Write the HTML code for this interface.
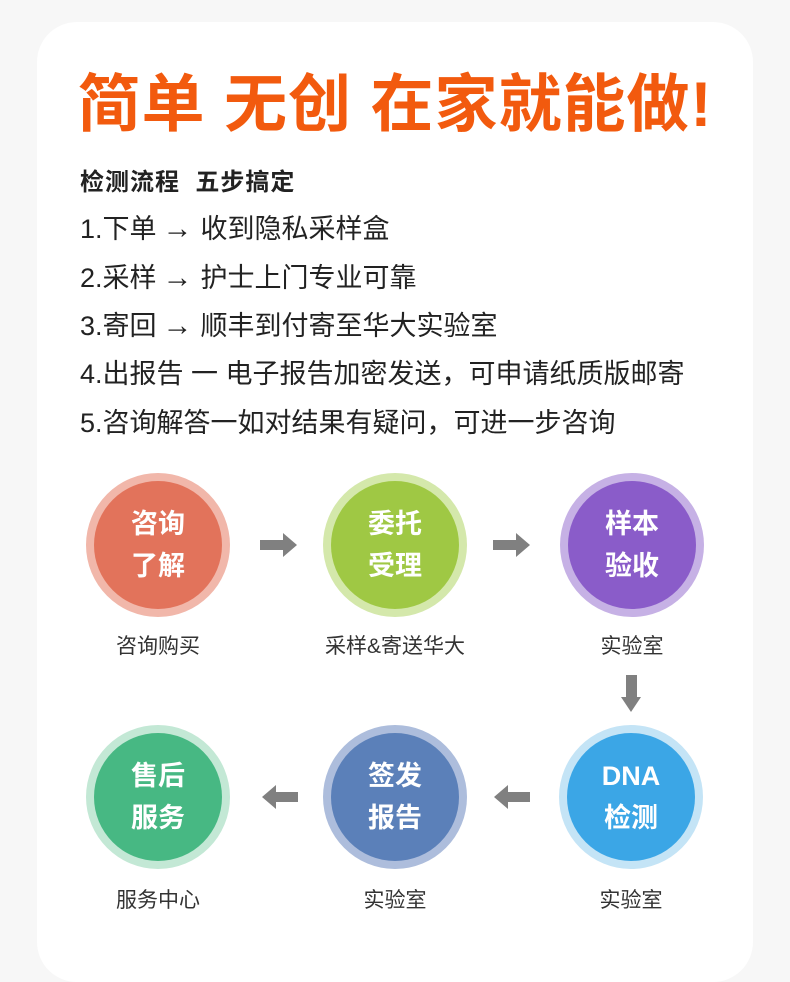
<!DOCTYPE html>
<html><head><meta charset="utf-8"><style>
body{margin:0;width:790px;height:945px;background:#f7f7f7;position:relative;overflow:hidden;font-family:"Liberation Sans","Noto Sans CJK SC",sans-serif;}
.card{position:absolute;left:37px;top:22px;width:716px;height:960px;background:#fff;border-radius:40px;}
.t{position:absolute;white-space:nowrap;}
.title{left:0;width:790px;text-align:center;top:54px;font-size:63px;font-weight:bold;color:#f25a0e;letter-spacing:1px;}
.line{left:80px;font-size:27px;color:#222;}
.c{position:absolute;width:144px;height:144px;border-radius:50%;}
.c div{position:absolute;left:8px;top:8px;width:128px;height:128px;border-radius:50%;color:#fff;font-weight:bold;font-size:27px;line-height:42px;text-align:center;display:flex;align-items:center;justify-content:center;}
.lb{position:absolute;width:200px;text-align:center;font-size:21px;color:#333;}
.ar{display:inline-block;font-size:30px;margin:0 8px 0 6px;}
</style></head><body>
<div class="card"></div>
<div class="t title">简单 无创 在家就能做!</div>
<div class="t line" style="top:162px;font-size:24px;font-weight:bold;letter-spacing:1px;">检测流程&nbsp; 五步搞定</div>
<div class="t line" style="top:207px;">1.下单<span class="ar">→</span>收到隐私采样盒</div>
<div class="t line" style="top:256px;">2.采样<span class="ar">→</span>护士上门专业可靠</div>
<div class="t line" style="top:304px;">3.寄回<span class="ar">→</span>顺丰到付寄至华大实验室</div>
<div class="t line" style="top:352px;">4.出报告 一 电子报告加密发送，可申请纸质版邮寄</div>
<div class="t line" style="top:401px;">5.咨询解答一如对结果有疑问，可进一步咨询</div>

<div class="c" style="left:86px;top:473px;background:#f1b7aa"><div style="background:#e2735b">咨询<br>了解</div></div>
<div class="c" style="left:323px;top:473px;background:#d4e8ab"><div style="background:#9fc844">委托<br>受理</div></div>
<div class="c" style="left:560px;top:473px;background:#c6b1e5"><div style="background:#8a5cc9">样本<br>验收</div></div>
<div class="c" style="left:559px;top:725px;background:#c4e4f6"><div style="background:#3ba6e6">DNA<br>检测</div></div>
<div class="c" style="left:323px;top:725px;background:#adbddc"><div style="background:#5b80b9">签发<br>报告</div></div>
<div class="c" style="left:86px;top:725px;background:#c3e8d5"><div style="background:#47b883">售后<br>服务</div></div>

<div class="lb" style="left:58px;top:630px">咨询购买</div>
<div class="lb" style="left:295px;top:630px">采样&amp;寄送华大</div>
<div class="lb" style="left:532px;top:630px">实验室</div>
<div class="lb" style="left:531px;top:884px">实验室</div>
<div class="lb" style="left:295px;top:884px">实验室</div>
<div class="lb" style="left:58px;top:884px">服务中心</div>

<svg width="790" height="945" style="position:absolute;left:0;top:0">
<g fill="#808080">
<polygon points="260,540 283,540 283,533 297,545 283,557 283,550 260,550"/>
<polygon points="493,540 516,540 516,533 530,545 516,557 516,550 493,550"/>
<polygon points="626,675 637,675 637,697 641,697 631,712 621,697 626,697"/>
<polygon points="298,792 276,792 276,785 262,797 276,809 276,802 298,802"/>
<polygon points="530,792 508,792 508,785 494,797 508,809 508,802 530,802"/>
</g></svg>
</body></html>
